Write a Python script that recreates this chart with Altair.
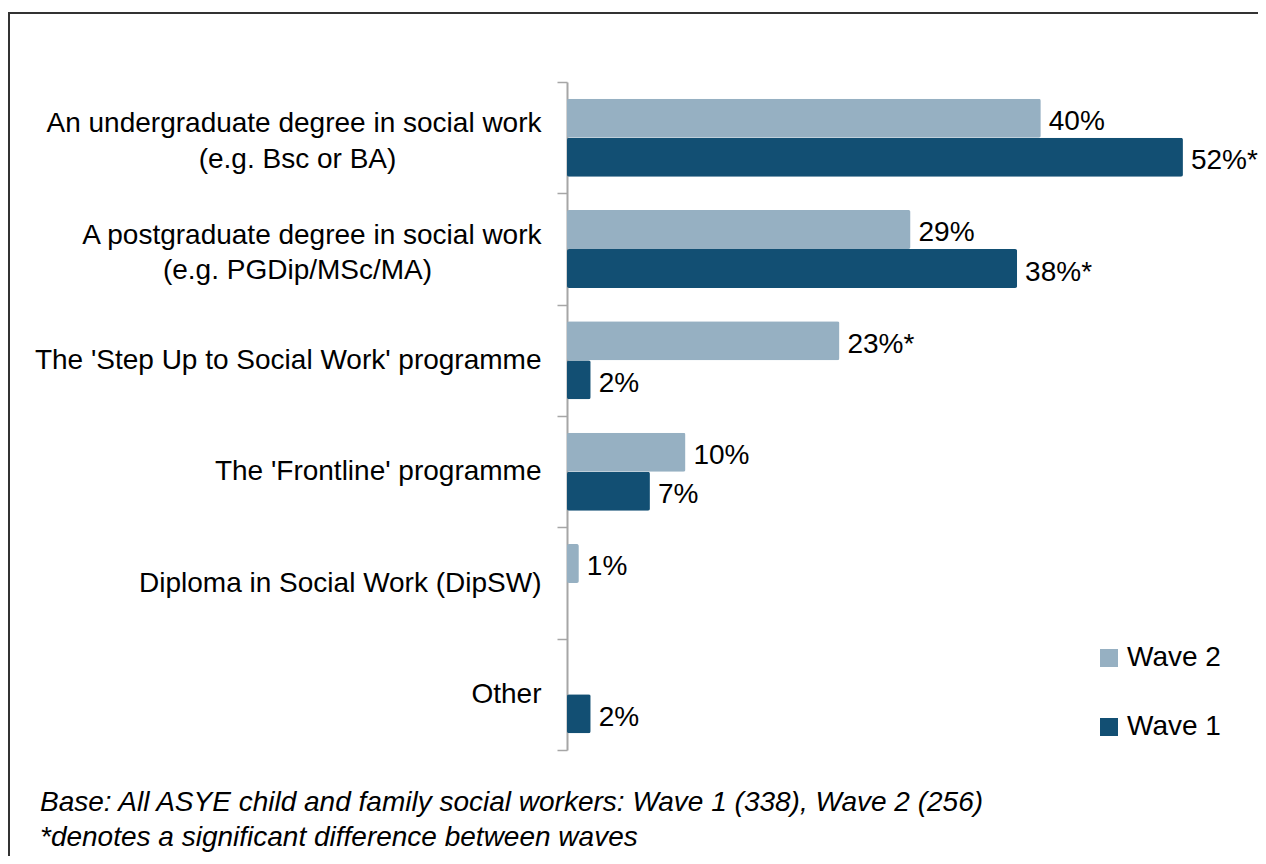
import json
import altair as alt
import pandas as pd

# ---------------- data ----------------
categories = [
    "An undergraduate degree in social work (e.g. Bsc or BA)",
    "A postgraduate degree in social work (e.g. PGDip/MSc/MA)",
    "The 'Step Up to Social Work' programme",
    "The 'Frontline' programme",
    "Diploma in Social Work (DipSW)",
    "Other",
]
waves = ["Wave 2", "Wave 1"]
wave2_values = [40, 29, 23, 10, 1, None]
wave1_values = [52, 38, 2, 7, None, 2]
wave2_significant = [False, False, True, False, False, False]
wave1_significant = [True, True, False, False, False, False]
footnote_lines = [
    "Base: All ASYE child and family social workers: Wave 1 (338), Wave 2 (256)",
    "*denotes a significant difference between waves",
]

# ---------------- table ----------------
rows = []
for wave, vals, sigs in [("Wave 2", wave2_values, wave2_significant),
                         ("Wave 1", wave1_values, wave1_significant)]:
    for cat, v, s in zip(categories, vals, sigs):
        if v is None:
            continue
        rows.append({"category": cat, "wave": wave, "value": v,
                     "label": f"{v}%" + ("*" if s else "")})
df = pd.DataFrame(rows)

# ---------------- styling ----------------
FONT = "Liberation Sans"
LIGHT = "#96B0C2"
DARK = "#124F73"
AXIS_GREY = "#A6A6A6"

# wrapped axis labels: first line right-aligned, second line centred beneath
wrapped = {
    categories[0]: ("An undergraduate degree in social work", "(e.g. Bsc or BA)"),
    categories[1]: ("A postgraduate degree in social work", "(e.g. PGDip/MSc/MA)"),
}
first_expr = ""
second_expr = ""
for k, (l1, l2) in wrapped.items():
    first_expr += f"datum.value == {json.dumps(k)} ? {json.dumps(l1)} : "
    second_expr += f"datum.value == {json.dumps(k)} ? {json.dumps(l2)} : "
first_expr += "datum.label"
second_expr += "''"
wrapped_test = f"indexof({json.dumps(list(wrapped.keys()))}, datum.value) >= 0"

y_scale = alt.Scale(domain=categories, paddingInner=0, paddingOuter=0)

axis_main = alt.Axis(
    title=None,
    orient="left",
    labelExpr=first_expr,
    labelFont=FONT,
    labelFontSize=28,
    labelColor="black",
    labelLimit=2000,
    labelPadding=16,
    labelAlign="right",
    labelBaseline="middle",
    labelOffset={"condition": {"test": wrapped_test, "value": -14}, "value": 0},
    tickBand="extent",
    tickSize=10,
    tickColor=AXIS_GREY,
    tickWidth=1.5,
    domainColor=AXIS_GREY,
    domainWidth=2,
    grid=False,
)
axis_second = alt.Axis(
    title=None,
    orient="left",
    labelExpr=second_expr,
    labelFont=FONT,
    labelFontSize=28,
    labelColor="black",
    labelLimit=2000,
    labelPadding=270,
    labelAlign="center",
    labelBaseline="middle",
    labelOffset=22,
    ticks=False,
    tickSize=0,
    domain=False,
    grid=False,
)

yoff_enc = alt.YOffset("wave:N", sort=waves,
                       scale=alt.Scale(domain=waves, paddingInner=0, paddingOuter=0.427))
x_enc = alt.X("value:Q", scale=alt.Scale(domain=[0, 58], nice=False, zero=True), axis=None)

bars = alt.Chart(df).mark_bar(cornerRadius=2).encode(
    x=x_enc,
    y=alt.Y("category:N", sort=categories, scale=y_scale, axis=axis_main),
    yOffset=yoff_enc,
    color=alt.Color(
        "wave:N",
        scale=alt.Scale(domain=waves, range=[LIGHT, DARK]),
        legend=alt.Legend(
            title=None,
            orient="none",
            legendX=528,
            legendY=562,
            symbolType="square",
            symbolSize=324,
            symbolStrokeWidth=0,
            labelFont=FONT,
            labelFontSize=28,
            labelColor="black",
            labelOffset=4,
            rowPadding=41,
            padding=0,
        ),
    ),
)

texts = alt.Chart(df).mark_text(
    align="left", baseline="middle", dx=8, dy=4,
    font=FONT, fontSize=28, color="black",
).encode(
    x=x_enc,
    y=alt.Y("category:N", sort=categories, scale=y_scale, axis=axis_second),
    yOffset=yoff_enc,
    text="label:N",
)

border = alt.Chart(pd.DataFrame({"k": [0]})).mark_rect(
    fill="transparent", stroke="#333333", strokeWidth=2
).encode(
    x=alt.value(-558), x2=alt.value(900),
    y=alt.value(-69), y2=alt.value(1000),
)

footnote = alt.Chart(pd.DataFrame({"k": [0]})).mark_text(
    align="left", baseline="alphabetic", font=FONT, fontSize=28,
    fontStyle="italic", lineHeight=35, color="black",
).encode(
    x=alt.value(-527), y=alt.value(729), text=alt.value(footnote_lines),
)

chart = alt.layer(border, bars, texts, footnote).resolve_axis(
    y="independent"
).properties(
    width=687,
    height=668,
    padding={"left": 559, "top": 74, "right": 4, "bottom": 106},
    autosize=alt.AutoSizeParams(type="none"),
).configure_view(stroke=None)

chart.save("out.html", embed_options={"renderer": "svg", "actions": False})
